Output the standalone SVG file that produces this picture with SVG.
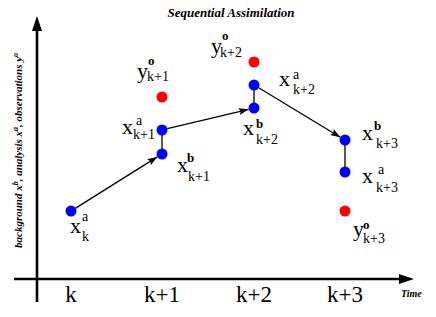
<svg xmlns="http://www.w3.org/2000/svg" width="436" height="317" viewBox="0 0 436 317">
<style>
.t{font-family:"Liberation Serif",serif;font-weight:bold;font-style:italic;fill:#000}
.m{font-family:"Liberation Serif","Times New Roman",serif;font-size:22px;fill:#000}
.s{font-family:"Liberation Serif","Times New Roman",serif;font-size:14px;fill:#000}
.sb{font-family:"Liberation Serif","Times New Roman",serif;font-size:13px;font-weight:bold;fill:#000}
.tick{font-family:"Liberation Serif","Times New Roman",serif;font-size:23px;fill:#000;text-anchor:middle}
.bl{fill:#0000ff}
.rd{fill:#ff0000}
.ax{stroke:#000;stroke-width:2.6;fill:none}
.cn{stroke:#000;stroke-width:1.3;fill:none}
</style>
<defs>
<marker id="ah" markerUnits="userSpaceOnUse" markerWidth="11" markerHeight="7" refX="10" refY="3.5" orient="auto">
<path d="M0,0 L10,3.5 L0,7 L2,3.5 z" fill="#000"/>
</marker>
</defs>
<rect width="436" height="317" fill="#fff"/>
<text class="t" x="231" y="17" font-size="13" text-anchor="middle">Sequential Assimilation</text>
<g id="axes">
<line class="ax" x1="37" y1="302" x2="37" y2="28"/>
<path d="M37,16 L42,31 L32,31 z" fill="#000"/>
<line class="ax" x1="14" y1="279" x2="402" y2="279"/>
<path d="M414,279 L399,284 L399,274 z" fill="#000"/>
<text class="t" font-size="11" transform="translate(22,248) rotate(-90)">background x<tspan font-size="8" dy="-4">b</tspan><tspan dy="4">, analysis x</tspan><tspan font-size="8" dy="-4">a</tspan><tspan dy="4">, observations y</tspan><tspan font-size="8" dy="-4">o</tspan></text>
<text class="t" x="401" y="297" font-size="10">Time</text>
<text class="tick" x="71" y="302">k</text>
<text class="tick" x="162" y="302">k+1</text>
<text class="tick" x="254" y="302">k+2</text>
<text class="tick" x="345" y="302">k+3</text>
</g>
<g id="connectors">
<line class="cn" x1="75.7" y1="208.1" x2="157.3" y2="156.9" marker-end="url(#ah)"/>
<line class="cn" x1="167.3" y1="128.7" x2="248.7" y2="109.3" marker-end="url(#ah)"/>
<line class="cn" x1="258.7" y1="87.8" x2="340.3" y2="137.2" marker-end="url(#ah)"/>
<line class="cn" x1="162" y1="130" x2="162" y2="154"/>
<line class="cn" x1="254" y1="85" x2="254" y2="108"/>
<line class="cn" x1="345" y1="140" x2="345" y2="172"/>
</g>
<g id="xa_k">
<circle class="bl" cx="71" cy="211" r="5.5"/>
<text class="m" x="70" y="233">x</text><text class="s" x="82" y="221">a</text><text class="s" x="82" y="241">k</text>
</g>
<g id="xb_k1">
<circle class="bl" cx="162" cy="154" r="5.5"/>
<text class="m" x="177" y="172">x</text><text class="sb" x="187" y="162">b</text><text class="s" x="188" y="181">k+1</text>
</g>
<g id="xa_k1">
<circle class="bl" cx="162" cy="130" r="5.5"/>
<text class="m" x="122" y="134">x</text><text class="s" x="136" y="125">a</text><text class="s" x="133" y="139">k+1</text>
</g>
<g id="yo_k1">
<circle class="rd" cx="162" cy="97" r="5.5"/>
<text class="m" x="137" y="78">y</text><text class="sb" x="148" y="65">o</text><text class="s" x="147" y="81">k+1</text>
</g>
<g id="yo_k2">
<circle class="rd" cx="254" cy="62" r="5.5"/>
<text class="m" x="211" y="53">y</text><text class="sb" x="222" y="40">o</text><text class="s" x="220" y="57">k+2</text>
</g>
<g id="xa_k2">
<circle class="bl" cx="254" cy="85" r="5.5"/>
<text class="m" x="279" y="86">x</text><text class="s" x="293" y="79">a</text><text class="s" x="293" y="94">k+2</text>
</g>
<g id="xb_k2">
<circle class="bl" cx="254" cy="108" r="5.5"/>
<text class="m" x="243" y="135">x</text><text class="sb" x="256" y="128">b</text><text class="s" x="256" y="144">k+2</text>
</g>
<g id="xb_k3">
<circle class="bl" cx="345" cy="140" r="5.5"/>
<text class="m" x="362" y="140">x</text><text class="sb" x="374" y="130">b</text><text class="s" x="376" y="148">k+3</text>
</g>
<g id="xa_k3">
<circle class="bl" cx="345" cy="172" r="5.5"/>
<text class="m" x="362" y="183">x</text><text class="s" x="378" y="174">a</text><text class="s" x="376" y="192">k+3</text>
</g>
<g id="yo_k3">
<circle class="rd" cx="345" cy="211" r="5.5"/>
<text class="m" x="353" y="236">y</text><text class="sb" x="363" y="229">o</text><text class="s" x="363" y="243">k+3</text>
</g>
</svg>
